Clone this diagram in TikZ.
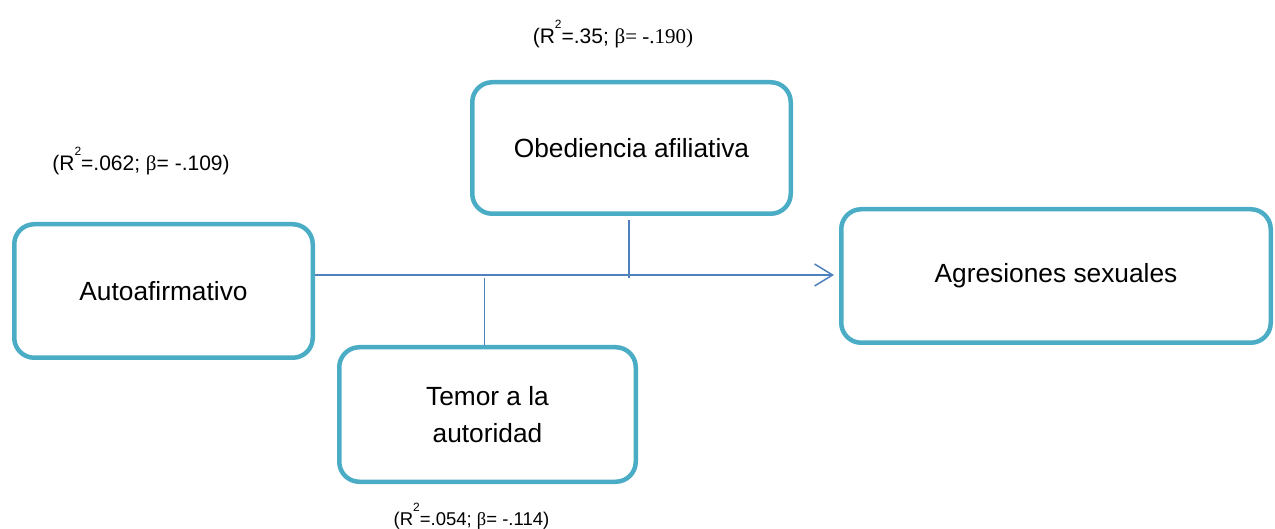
\documentclass[tikz,border=0pt]{standalone}
\usepackage{fontspec}
\setmainfont{Liberation Sans}
\newfontfamily\timesfont{Liberation Serif}
\usetikzlibrary{arrows.meta,positioning}
\definecolor{boxTeal}{RGB}{75,172,198}
\definecolor{linkBlue}{RGB}{79,129,189}
\newcommand{\rsq}{R\raisebox{0.72em}{\fontsize{12}{12}\selectfont 2}}

\begin{document}
\begin{tikzpicture}[x=1pt,y=-1pt,
    varbox/.style={draw=boxTeal,line width=4.5pt,rounded corners=20pt,
      align=center,inner sep=0pt,font=\fontsize{26.3}{37}\selectfont},
    link/.style={draw=linkBlue,line width=1.5pt},
    stat/.style={anchor=base,inner sep=0pt,font=\fontsize{21}{24}\selectfont}]
  \useasboundingbox (0,0) rectangle (1275,529);
  % variables
  \node[varbox,minimum width=298.5pt,minimum height=133.5pt] (auto) at (163.5,291) {Autoafirmativo};
  \node[varbox,minimum width=318.5pt,minimum height=131.5pt] (obed) at (631.5,148) {Obediencia afiliativa};
  \node[varbox,minimum width=429.5pt,minimum height=133.5pt] (agres) at (1056,276) {Agresiones sexuales};
  \node[varbox,minimum width=296.5pt,minimum height=134.5pt] (temor) at (487.5,414.5) {Temor a la\\autoridad};
  % statistics
  \node[stat] (sobed) at (613,44) {(\rsq=.35; {\timesfont β= -.190)}};
  \node[stat] (sauto) at (141,171) {(\rsq=.062; {\timesfont β}= -.109)};
  \node[stat,font=\fontsize{18.5}{22}\selectfont] (stemor) at (471.5,525) {(\rsq=.054; {\timesfont β}= -.114)};
  % paths
  \coordinate (tip) at (834,275);
  \coordinate (jobed) at (629,278);
  \coordinate (jtemor) at (484.5,278);
  \draw[link,-{Straight Barb[length=18pt,width=22pt]}] (auto.east |- tip) -- (tip);
  \draw[link] ([yshift=-4pt]obed.south -| jobed) -- (jobed);
  \draw[link] (jtemor) -- (temor.north -| jtemor);
\end{tikzpicture}
\end{document}
